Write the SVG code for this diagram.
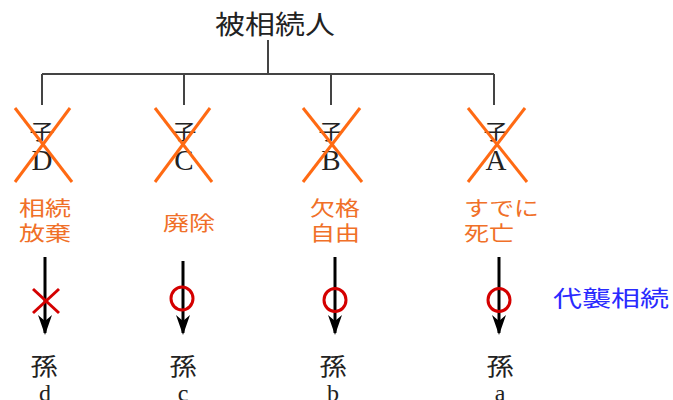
<svg xmlns="http://www.w3.org/2000/svg" width="673" height="400" viewBox="0 0 673 400">
<style>
.jp{font-family:"Noto Sans CJK JP","Noto Sans CJK SC",sans-serif;}
.lat{font-family:"Liberation Serif","DejaVu Serif",serif;}
.blk{fill:#222;}
.org{fill:#f07028;}
.tree{stroke:#444;stroke-width:2;fill:none;}
.cross{stroke:#ff6a13;stroke-width:3;}
.arr{stroke:#000;stroke-width:3;}
.red{stroke:#d40000;stroke-width:3;fill:none;}
</style>
<defs>
<marker id="ah" viewBox="0 0 20 14" refX="18" refY="7" markerWidth="20" markerHeight="14" markerUnits="userSpaceOnUse" orient="auto">
<path d="M0,0 L20,7 L0,14 L6,7 Z" fill="#000"/>
</marker>
</defs>
<g id="root">
<text class="jp blk" x="275" y="34" font-size="26" text-anchor="middle" textLength="120" lengthAdjust="spacingAndGlyphs">被相続人</text>
</g>
<g id="connectors">
<path class="tree" d="M268,40 V74 M42,74 H494 M42,74 V105 M184,74 V105 M331,74 V105 M494,74 V105"/>
<line class="arr" x1="45" y1="257" x2="45" y2="333" marker-end="url(#ah)"/>
<line class="arr" x1="183" y1="261" x2="183" y2="333" marker-end="url(#ah)"/>
<line class="arr" x1="335" y1="257" x2="335" y2="333" marker-end="url(#ah)"/>
<line class="arr" x1="499" y1="257" x2="499" y2="333" marker-end="url(#ah)"/>
</g>
<g id="child-D">
<text class="jp blk" x="42" y="139" font-size="21" text-anchor="middle" textLength="25" lengthAdjust="spacingAndGlyphs">子</text>
<text class="lat blk" x="42" y="170" font-size="29" text-anchor="middle">D</text>
<line class="cross" x1="15" y1="108" x2="72" y2="182"/>
<line class="cross" x1="70" y1="108" x2="15" y2="182"/>
</g>
<g id="child-C">
<text class="jp blk" x="184" y="139" font-size="21" text-anchor="middle" textLength="25" lengthAdjust="spacingAndGlyphs">子</text>
<text class="lat blk" x="184" y="170" font-size="29" text-anchor="middle">C</text>
<line class="cross" x1="155" y1="108" x2="212" y2="182"/>
<line class="cross" x1="210" y1="108" x2="155" y2="182"/>
</g>
<g id="child-B">
<text class="jp blk" x="331" y="139" font-size="21" text-anchor="middle" textLength="25" lengthAdjust="spacingAndGlyphs">子</text>
<text class="lat blk" x="331" y="170" font-size="29" text-anchor="middle">B</text>
<line class="cross" x1="303" y1="108" x2="362" y2="182"/>
<line class="cross" x1="360" y1="108" x2="303" y2="182"/>
</g>
<g id="child-A">
<text class="jp blk" x="496" y="139" font-size="21" text-anchor="middle" textLength="25" lengthAdjust="spacingAndGlyphs">子</text>
<text class="lat blk" x="496" y="170" font-size="29" text-anchor="middle">A</text>
<line class="cross" x1="468" y1="108" x2="527" y2="182"/>
<line class="cross" x1="525" y1="108" x2="468" y2="182"/>
</g>
<g id="reason-D">
<text class="jp org" x="45" y="216" font-size="20" text-anchor="middle" textLength="52" lengthAdjust="spacingAndGlyphs">相続</text>
<text class="jp org" x="45" y="241" font-size="20" text-anchor="middle" textLength="52" lengthAdjust="spacingAndGlyphs">放棄</text>
</g>
<g id="reason-C">
<text class="jp org" x="189" y="231" font-size="20" text-anchor="middle" textLength="52" lengthAdjust="spacingAndGlyphs">廃除</text>
</g>
<g id="reason-B">
<text class="jp org" x="335" y="216" font-size="20" text-anchor="middle" textLength="50" lengthAdjust="spacingAndGlyphs">欠格</text>
<text class="jp org" x="335" y="241" font-size="20" text-anchor="middle" textLength="50" lengthAdjust="spacingAndGlyphs">自由</text>
</g>
<g id="reason-A">
<text class="jp org" x="464" y="216" font-size="20" textLength="75" lengthAdjust="spacingAndGlyphs">すでに</text>
<text class="jp org" x="464" y="241" font-size="20" textLength="50" lengthAdjust="spacingAndGlyphs">死亡</text>
</g>
<g id="mark-d">
<line class="red" x1="33" y1="289" x2="59" y2="313"/>
<line class="red" x1="59" y1="289" x2="33" y2="313"/>
</g>
<g id="mark-c"><ellipse class="red" cx="182" cy="298.5" rx="11" ry="11.5"/></g>
<g id="mark-b"><ellipse class="red" cx="335" cy="300" rx="11" ry="11.5"/></g>
<g id="mark-a"><ellipse class="red" cx="499" cy="300" rx="11" ry="11.5"/></g>
<g id="daishu">
<text class="jp" x="553" y="306" font-size="22" fill="#2a2aff" textLength="116" lengthAdjust="spacingAndGlyphs">代襲相続</text>
</g>
<g id="grand-d">
<text class="jp blk" x="44" y="375" font-size="24" text-anchor="middle" textLength="27" lengthAdjust="spacingAndGlyphs">孫</text>
<text class="lat blk" x="45" y="401" font-size="24" text-anchor="middle">d</text>
</g>
<g id="grand-c">
<text class="jp blk" x="183" y="375" font-size="24" text-anchor="middle" textLength="27" lengthAdjust="spacingAndGlyphs">孫</text>
<text class="lat blk" x="183" y="401" font-size="24" text-anchor="middle">c</text>
</g>
<g id="grand-b">
<text class="jp blk" x="333" y="375" font-size="24" text-anchor="middle" textLength="27" lengthAdjust="spacingAndGlyphs">孫</text>
<text class="lat blk" x="333" y="401" font-size="24" text-anchor="middle">b</text>
</g>
<g id="grand-a">
<text class="jp blk" x="500" y="375" font-size="24" text-anchor="middle" textLength="27" lengthAdjust="spacingAndGlyphs">孫</text>
<text class="lat blk" x="500" y="401" font-size="24" text-anchor="middle">a</text>
</g>
</svg>
